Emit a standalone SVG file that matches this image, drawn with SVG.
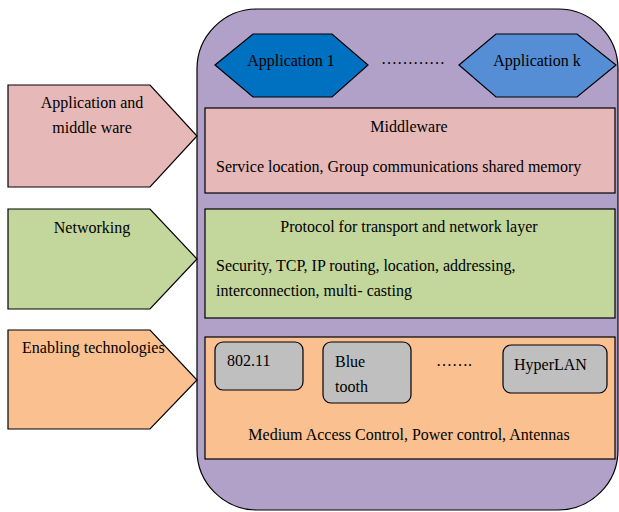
<svg xmlns="http://www.w3.org/2000/svg" width="619" height="512" viewBox="0 0 619 512">
<style>
text{font-family:"Liberation Serif","Times New Roman","DejaVu Serif",serif;font-size:16px;fill:#000}
.s{stroke:#000;stroke-width:1.2}
.c{text-anchor:middle}
</style>
<g id="stack"><rect class="s" x="197" y="9" width="421" height="501" rx="60" ry="60" fill="#B1A0C7"/></g>
<g id="app1"><polygon class="s" points="215,65 253,34 332,34 368,65 332,97 253,97" fill="#0070C0"/><text class="c" x="291" y="66">Application 1</text></g>
<g id="appdots"><text class="c" x="413" y="64">…………</text></g>
<g id="appk"><polygon class="s" points="459,65 496,34 577,34 616,65 577,97 496,97" fill="#558ED5"/><text class="c" x="537" y="66">Application k</text></g>
<g id="middleware"><rect class="s" x="205" y="108" width="410" height="85" fill="#E6B9B8"/><text class="c" x="409" y="132">Middleware</text><text x="216" y="172">Service location, Group communications shared memory</text></g>
<g id="network"><rect class="s" x="205" y="209" width="410" height="109" fill="#C3D69B"/><text class="c" x="409" y="232">Protocol for transport and network layer</text><text x="216" y="271">Security, TCP, IP routing, location, addressing,</text><text x="216" y="296">interconnection, multi- casting</text></g>
<g id="enabling"><rect class="s" x="205" y="337" width="410" height="122" fill="#FAC090"/><text class="c" x="409" y="440">Medium Access Control, Power control, Antennas</text></g>
<g id="w80211"><rect class="s" x="215" y="342" width="88" height="48" rx="8" fill="#BFBFBF"/><text x="227" y="366">802.11</text></g>
<g id="bluetooth"><rect class="s" x="323" y="342" width="88" height="61" rx="8" fill="#BFBFBF"/><text x="335" y="367">Blue</text><text x="335" y="392">tooth</text></g>
<g id="techdots"><text class="c" x="454" y="366">…….</text></g>
<g id="hyperlan"><rect class="s" x="503" y="345" width="104" height="48" rx="8" fill="#BFBFBF"/><text x="514" y="370">HyperLAN</text></g>
<g id="lbl-app"><polygon class="s" points="8,85 150,85 197,136 150,187 8,187" fill="#E6B9B8"/><text class="c" x="92" y="108">Application and</text><text class="c" x="92" y="133">middle ware</text></g>
<g id="lbl-net"><polygon class="s" points="8,209 150,209 197,259 150,309 8,309" fill="#C3D69B"/><text class="c" x="92" y="233">Networking</text></g>
<g id="lbl-en"><polygon class="s" points="8,330 150,330 197,380 150,429 8,429" fill="#FAC090"/><text x="22" y="353">Enabling technologies</text></g>
<g id="connectors"></g>
</svg>
